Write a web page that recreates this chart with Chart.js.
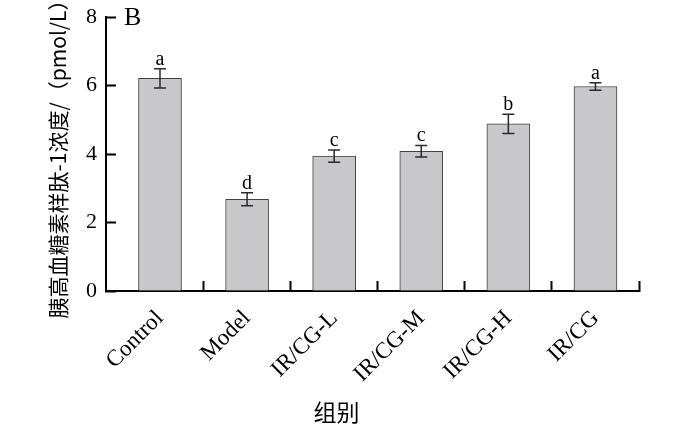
<!DOCTYPE html>
<html>
<head>
<meta charset="utf-8">
<script src="https://cdn.jsdelivr.net/npm/chart.js@4/dist/chart.umd.min.js"></script>
<style>
  html, body { margin: 0; padding: 0; background: #ffffff; }
  #wrap { width: 700px; height: 434px; }
</style>
</head>
<body>
<div id="wrap"><canvas id="glp1Chart" width="700" height="434"></canvas></div>
<script>
const groups = ['Control', 'Model', 'IR/CG-L', 'IR/CG-M', 'IR/CG-H', 'IR/CG']
const means = [6.21, 2.68, 3.94, 4.08, 4.88, 5.97]
const errors = [0.28, 0.19, 0.18, 0.17, 0.28, 0.11]
const letters = ['a', 'd', 'c', 'c', 'b', 'a']
const yTicks = [0, 2, 4, 6, 8]

const serif = '"Liberation Serif", "Times New Roman", serif'
const cjk = '"Noto Sans CJK SC", "Liberation Serif", sans-serif'

// boundaries between groups get the short upward tick marks
const xTickValues = []
groups.forEach((g, i) => {
  xTickValues.push(i)
  xTickValues.push(i + 0.5)
})

const errorBars = {
  id: 'errorBars',
  afterDatasetsDraw(chart) {
    const {ctx, scales: {x, y}, chartArea} = chart
    ctx.save()
    ctx.strokeStyle = '#2a2a2a'
    ctx.lineWidth = 1.5
    ctx.fillStyle = '#000000'
    ctx.font = '20px ' + serif
    ctx.textAlign = 'center'
    ctx.textBaseline = 'alphabetic'
    means.forEach((m, i) => {
      const px = x.getPixelForValue(i)
      const top = y.getPixelForValue(m + errors[i])
      const bot = y.getPixelForValue(m - errors[i])
      ctx.beginPath()
      ctx.moveTo(px, top); ctx.lineTo(px, bot)
      ctx.moveTo(px - 6, top); ctx.lineTo(px + 6, top)
      ctx.moveTo(px - 6, bot); ctx.lineTo(px + 6, bot)
      ctx.stroke()
      ctx.fillText(letters[i], px, top - 4)
    })
    // panel label
    ctx.font = '26px ' + serif
    ctx.textAlign = 'left'
    ctx.textBaseline = 'middle'
    ctx.fillText('B', chartArea.left + 18, chartArea.top + 1)
    ctx.restore()
  }
}

new Chart(document.getElementById('glp1Chart'), {
  type: 'bar',
  data: {
    datasets: [{
      data: means.map((v, i) => ({x: i, y: v})),
      backgroundColor: '#c8c8ca',
      borderColor: '#404040',
      borderWidth: 1,
      barThickness: 43
    }]
  },
  options: {
    responsive: false,
    animation: false,
    layout: {padding: {left: 0, right: 61, top: 17, bottom: 0}},
    plugins: {legend: {display: false}, tooltip: {enabled: false}},
    scales: {
      x: {
        type: 'linear',
        offset: false,
        min: -0.62,
        max: 5.5,
        afterBuildTicks: (scale) => {
          scale.ticks = xTickValues.map(v => ({value: v}))
        },
        afterFit: (scale) => { scale.height = 143 },
        border: {display: true, color: '#000000', width: 2},
        grid: {
          offset: false,
          drawOnChartArea: false,
          drawTicks: true,
          tickLength: -10,
          tickWidth: 2,
          tickColor: (c) => (c.tick && c.tick.value % 1 !== 0) ? '#000000' : 'rgba(0,0,0,0)'
        },
        ticks: {
          autoSkip: false,
          minRotation: 45,
          maxRotation: 45,
          padding: 24,
          color: '#000000',
          font: {family: serif, size: 23},
          callback: (v) => (v % 1 === 0 ? groups[v] : '')
        },
        title: {
          display: true,
          text: '组别' + '\u00a0'.repeat(14),
          color: '#000000',
          font: {family: cjk, size: 23},
          padding: {top: 0, bottom: 8}
        }
      },
      y: {
        min: 0,
        max: 8,
        afterBuildTicks: (scale) => {
          scale.ticks = yTicks.map(v => ({value: v}))
        },
        afterFit: (scale) => {
          scale.width = 106
          scale.paddingTop = 0
          scale.paddingBottom = 0
        },
        border: {display: true, color: '#000000', width: 2},
        grid: {
          drawOnChartArea: false,
          drawTicks: true,
          tickLength: -10,
          tickWidth: 2,
          tickColor: '#000000'
        },
        ticks: {
          padding: 19,
          color: '#000000',
          font: {family: serif, size: 22}
        },
        title: {
          display: true,
          text: '胰高血糖素样肽-1浓度/（pmol/L）',
          color: '#000000',
          font: {family: cjk, size: 21},
          padding: {top: 45, bottom: 0}
        }
      }
    }
  },
  plugins: [errorBars]
})
</script>
</body>
</html>
